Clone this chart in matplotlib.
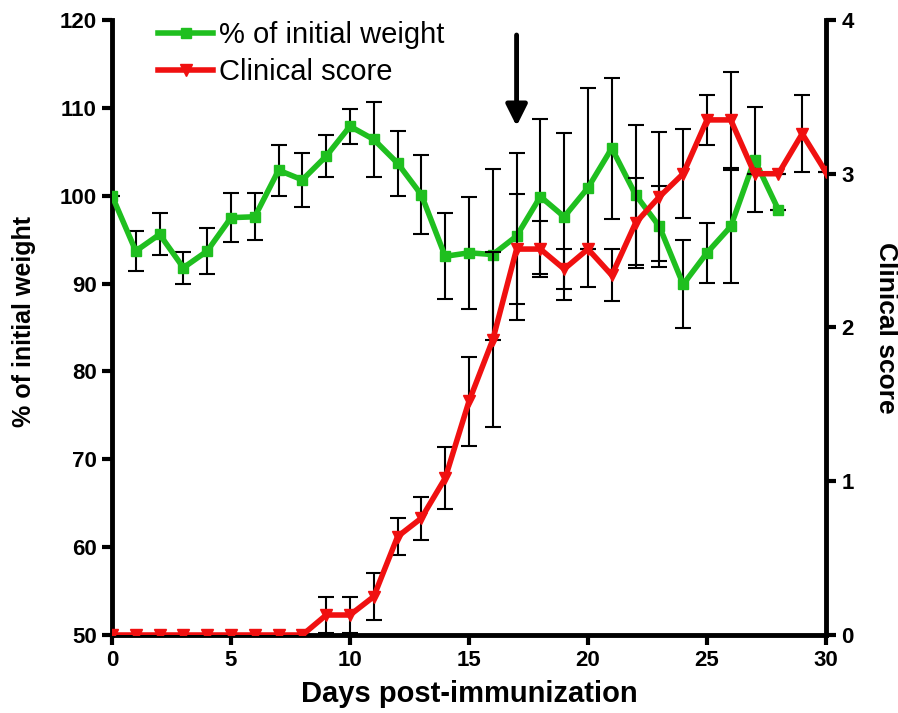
import numpy as np
import matplotlib
matplotlib.use("Agg")
import matplotlib.pyplot as plt

plt.rcParams['font.family'] = ['Liberation Sans', 'DejaVu Sans']

# % of initial weight (days 0-28)
days_w = list(range(0, 29))
weight = [100.0, 93.7, 95.6, 91.8, 93.7, 97.5, 97.6, 102.9, 101.8, 104.5,
          107.9, 106.4, 103.7, 100.1, 93.1, 93.5, 93.3, 95.4, 99.9, 97.6,
          100.9, 105.4, 100.1, 96.5, 89.9, 93.5, 96.5, 104.1, 98.4]
weight_err = [0, 2.3, 2.4, 1.8, 2.6, 2.8, 2.7, 2.9, 3.1, 2.4,
              2.0, 4.3, 3.7, 4.5, 4.9, 6.4, 9.7, 9.5, 8.8, 9.5,
              11.3, 8.0, 8.0, 4.6, 5.0, 3.4, 6.4, 6.0, 0]

# clinical score (days 0-30)
days_c = list(range(0, 31))
score = [0, 0, 0, 0, 0, 0, 0, 0, 0, 0.13,
         0.13, 0.25, 0.64, 0.76, 1.02, 1.52, 1.92, 2.51, 2.51, 2.38,
         2.51, 2.34, 2.68, 2.85, 3.0, 3.35, 3.35, 3.0, 3.0, 3.26,
         3.01]
score_err = [0, 0, 0, 0, 0, 0, 0, 0, 0, 0.12,
             0.12, 0.15, 0.12, 0.14, 0.2, 0.29, 0.57, 0.36, 0.18, 0.13,
             0, 0.17, 0.29, 0.42, 0.29, 0.16, 0.31, 0, 0, 0.25,
             0]

green = '#1fbf1f'
red = '#f01010'

fig = plt.figure(figsize=(8.98, 7.13), dpi=100)
ax = fig.add_axes([0.1247, 0.1094, 0.7951, 0.8626])
ax2 = ax.twinx()

ax.errorbar(days_w, weight, yerr=weight_err, fmt='none', ecolor='black',
            elinewidth=1.5, capsize=6, capthick=1.5, zorder=2)
lw, = ax.plot(days_w, weight, color=green, lw=4, marker='s', ms=7.5, zorder=3)

ax2.errorbar(days_c, score, yerr=score_err, fmt='none', ecolor='black',
             elinewidth=1.5, capsize=6, capthick=1.5, zorder=2)
lc, = ax2.plot(days_c, score, color=red, lw=4, marker='v', ms=9, zorder=3)

ax.set_xlim(0, 30)
ax.set_ylim(50, 120)
ax2.set_ylim(0, 4)
ax.set_xticks(range(0, 31, 5))
ax.set_yticks(range(50, 121, 10))
ax2.set_yticks(range(0, 5))

for a in (ax, ax2):
    a.spines['top'].set_visible(False)
    for s in ('left', 'right', 'bottom'):
        a.spines[s].set_linewidth(3.5)
    a.tick_params(width=3, length=7, labelsize=16, pad=4)
    for t in a.get_xticklabels() + a.get_yticklabels():
        t.set_fontweight('bold')
ax.spines['right'].set_visible(False)
ax2.spines['left'].set_visible(False)
ax2.spines['bottom'].set_visible(False)

ax.set_xlabel('Days post-immunization', fontsize=21, fontweight='bold', labelpad=6)
ax.set_ylabel('% of initial weight', fontsize=18, fontweight='bold')
ax.yaxis.set_label_coords(-0.106, 0.51)
ax2.set_ylabel('Clinical score', fontsize=19, fontweight='bold',
               rotation=270, labelpad=32)

ax.annotate('', xy=(17, 107.6), xytext=(17, 118.6),
            arrowprops=dict(arrowstyle='-|>', color='black', lw=3.5,
                            mutation_scale=32))

ax2.legend([lw, lc], ['% of initial weight', 'Clinical score'],
           loc='upper left', bbox_to_anchor=(158 / 898, 1 - 21 / 713),
           bbox_transform=fig.transFigure, borderaxespad=0, borderpad=0,
           frameon=False, fontsize=21, handlelength=1.9, handletextpad=0.2,
           labelspacing=0.3)

ax2.set_zorder(ax.get_zorder() + 1)
ax.patch.set_visible(False)

fig.savefig('out.png', dpi=100)
